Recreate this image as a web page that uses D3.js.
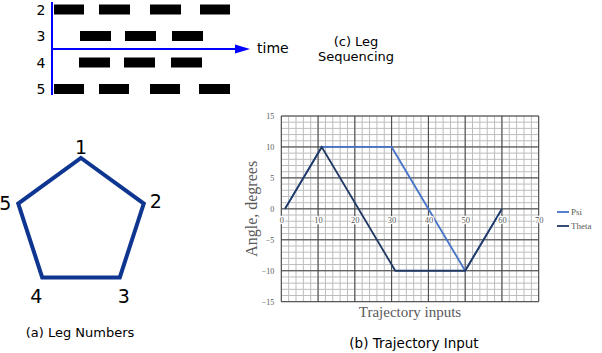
<!DOCTYPE html>
<html><head><meta charset="utf-8">
<script src="https://cdn.jsdelivr.net/npm/d3@7"></script>
<style>body{margin:0;background:#fff}svg{display:block}</style>
</head><body>
<script>
// ---- data ----
const psiPts = [[1,0],[11,10],[30,10],[50,-10],[60,0]];
const thetaPts = [[1,0],[11,10],[31,-10],[50,-10],[60,0]];
const xTicks = [0,10,20,30,40,50,60,70];
const yTicks = [15,10,5,0,-5,-10,-15];
const seriesNames = ["Psi","Theta"];
const legRows = ["2","3","4","5"];
// stepping intervals per leg row, in time units
const legSteps = {
  "2": [[0,30],[45,76],[96,127],[146,176]],
  "3": [[26,57],[71,102],[118,149]],
  "4": [[25,56],[70,101],[117,148]],
  "5": [[0,30],[45,75],[96,126],[145,176]]
};
const pentagonLabels = ["1","2","3","4","5"];

const W=602,H=353;
const svg=d3.select("body").append("svg").attr("width",W).attr("height",H);

// ---- (c) leg sequencing ----
const tS=d3.scaleLinear().domain([0,200]).range([54,254]);
const rowY=d3.scalePoint().domain(legRows).range([9.5,89]);
const gS=svg.append("g");
legRows.forEach(r=>{
  legSteps[r].forEach(s=>{
    gS.append("rect").attr("x",tS(s[0])).attr("y",rowY(r)-5).attr("width",tS(s[1])-tS(s[0])).attr("height",10).attr("fill","#000");
  });
  gS.append("text").attr("x",41).attr("y",rowY(r)+5).attr("text-anchor","middle")
    .attr("font-family","DejaVu Sans").attr("font-size",14).text(r);
});
gS.append("line").attr("x1",52).attr("x2",52).attr("y1",2).attr("y2",95).attr("stroke","#0000ff").attr("stroke-width",2);
gS.append("line").attr("x1",52).attr("x2",238).attr("y1",49).attr("y2",49).attr("stroke","#0000ff").attr("stroke-width",2);
gS.append("path").attr("d","M235,44.5 L250,49 L235,53.5 Z").attr("fill","#0000ff");
gS.append("text").attr("x",257).attr("y",53).attr("font-family","DejaVu Sans").attr("font-size",14).text("time");
gS.append("text").attr("x",356).attr("y",46).attr("text-anchor","middle").attr("font-family","DejaVu Sans").attr("font-size",13).text("(c) Leg");
gS.append("text").attr("x",356).attr("y",61).attr("text-anchor","middle").attr("font-family","DejaVu Sans").attr("font-size",13).text("Sequencing");

// ---- (a) leg numbers pentagon ----
const cx=81, cy=224, R=66;
const ang=d3.scaleLinear().domain([0,5]).range([-Math.PI/2, 1.5*Math.PI]);
const verts=pentagonLabels.map((l,i)=>[cx+R*Math.cos(ang(i)), cy+R*Math.sin(ang(i))]);
svg.append("path").attr("d",d3.line()(verts)+"Z").attr("fill","none").attr("stroke","#0e3590").attr("stroke-width",4).attr("stroke-linejoin","miter");
const lblOff=[[0,-4],[12,4],[4,26],[-6,26],[-13,6]];
verts.forEach((v,i)=>{
  svg.append("text").attr("x",v[0]+lblOff[i][0]).attr("y",v[1]+lblOff[i][1]).attr("text-anchor","middle")
   .attr("font-family","DejaVu Sans").attr("font-size",19).text(pentagonLabels[i]);
});
svg.append("text").attr("x",80).attr("y",337).attr("text-anchor","middle").attr("font-family","DejaVu Sans").attr("font-size",13).text("(a) Leg Numbers");

// ---- (b) trajectory chart ----
const x=d3.scaleLinear().domain([0,70]).range([281.3,538.7]);
const y=d3.scaleLinear().domain([-15,15]).range([301.7,116]);
const g=svg.append("g");
// minor grid
d3.range(0,71,2).forEach(v=>g.append("line").attr("x1",x(v)).attr("x2",x(v)).attr("y1",y(15)).attr("y2",y(-15)).attr("stroke","#bdbdbd").attr("stroke-width",1));
d3.range(-15,16,1).forEach(v=>g.append("line").attr("x1",x(0)).attr("x2",x(70)).attr("y1",y(v)).attr("y2",y(v)).attr("stroke","#bdbdbd").attr("stroke-width",1));
// major grid
xTicks.forEach(v=>g.append("line").attr("x1",x(v)).attr("x2",x(v)).attr("y1",y(15)).attr("y2",y(-15)).attr("stroke","#404040").attr("stroke-width",1));
yTicks.forEach(v=>g.append("line").attr("x1",x(0)).attr("x2",x(70)).attr("y1",y(v)).attr("y2",y(v)).attr("stroke","#404040").attr("stroke-width",1));
// axes tick labels
const yAx=d3.axisLeft(y).tickValues(yTicks).tickSize(0).tickPadding(7);
const ya=g.append("g").attr("transform",`translate(${x(0)},0)`).call(yAx);
ya.select(".domain").remove();
ya.selectAll("text").attr("font-family","Liberation Serif").attr("font-size",8).attr("fill","#595959");
// lines
const ln=d3.line().x(d=>x(d[0])).y(d=>y(d[1]));
const colors={Psi:"#4673c8",Theta:"#203864"};
g.append("path").attr("d",ln(psiPts)).attr("fill","none").attr("stroke",colors.Psi).attr("stroke-width",1.8);
g.append("path").attr("d",ln(thetaPts)).attr("fill","none").attr("stroke",colors.Theta).attr("stroke-width",1.8);
const xAx=d3.axisBottom(x).tickValues(xTicks).tickSize(0).tickPadding(8);
const xa=g.append("g").attr("transform",`translate(0,${y(0)})`).call(xAx);
xa.select(".domain").remove();
xa.selectAll("text").attr("font-family","Liberation Serif").attr("font-size",8.5).attr("fill","#595959")
  .attr("stroke","#ffffff").attr("stroke-width",2.5).attr("paint-order","stroke");
// axis titles
g.append("text").attr("transform",`translate(257,${y(0)}) rotate(-90)`).attr("text-anchor","middle")
  .attr("font-family","Liberation Serif").attr("font-size",16).attr("fill","#595959").text("Angle, degrees");
g.append("text").attr("x",410).attr("y",317).attr("text-anchor","middle")
  .attr("font-family","Liberation Serif").attr("font-size",15).attr("fill","#595959").text("Trajectory inputs");
// legend
seriesNames.forEach((s,i)=>{
  const ly=212+i*14;
  g.append("line").attr("x1",557).attr("x2",569).attr("y1",ly).attr("y2",ly).attr("stroke",colors[s]).attr("stroke-width",1.8);
  g.append("text").attr("x",571).attr("y",ly+3).attr("font-family","Liberation Serif").attr("font-size",9).attr("fill","#595959").text(s);
});
svg.append("text").attr("x",414).attr("y",348).attr("text-anchor","middle").attr("font-family","DejaVu Sans").attr("font-size",13.5).text("(b) Trajectory Input");
</script>
</body></html>
